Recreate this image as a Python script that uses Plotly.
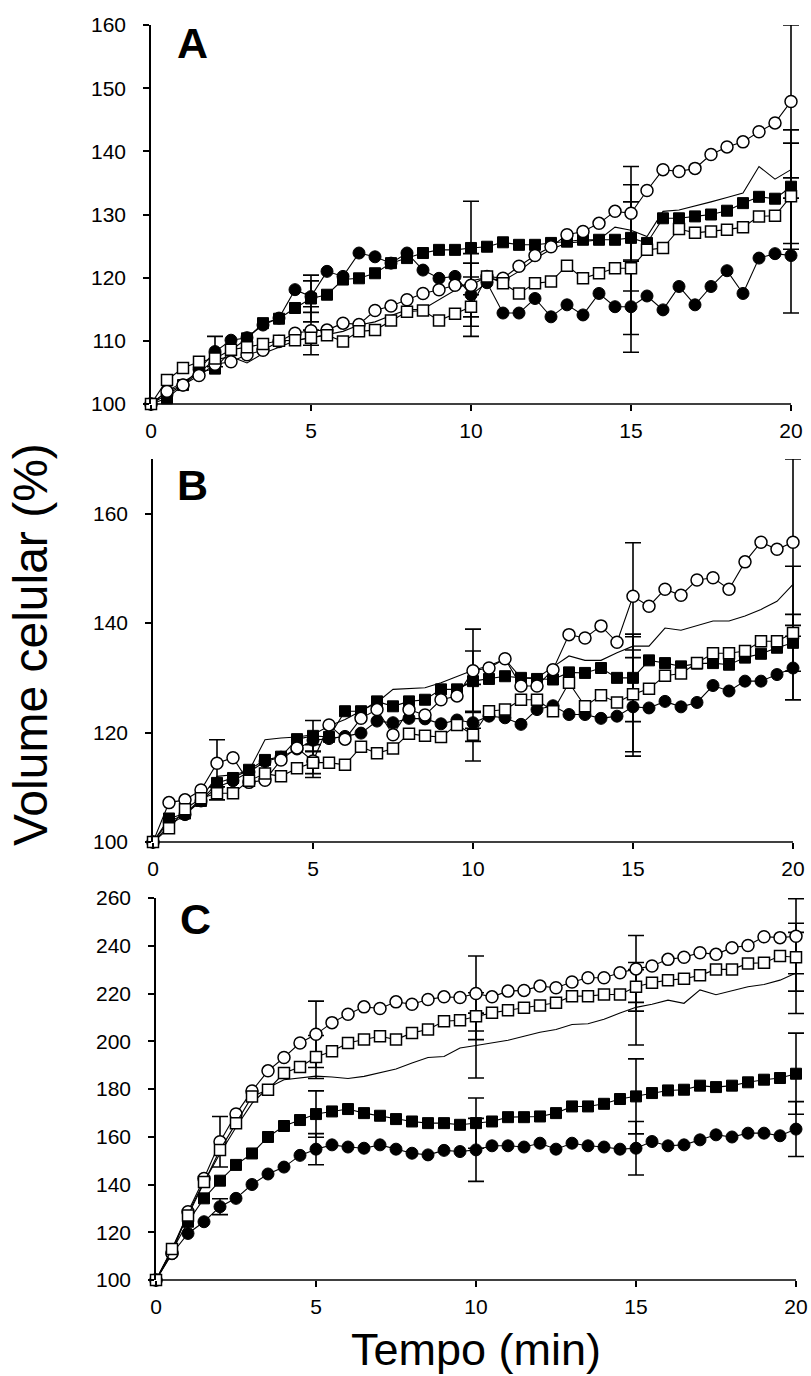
import plotly.graph_objects as go

# ---------------- data ----------------
time_min = [0, 0.5, 1, 1.5, 2, 2.5, 3, 3.5, 4, 4.5, 5, 5.5, 6, 6.5, 7, 7.5, 8, 8.5, 9, 9.5,
            10, 10.5, 11, 11.5, 12, 12.5, 13, 13.5, 14, 14.5, 15, 15.5, 16, 16.5, 17, 17.5,
            18, 18.5, 19, 19.5, 20]
err_times = [2, 5, 10, 15, 20]

# Panel A
A_filled_circle = [100, 101.5, 103, 105.5, 108.3, 110.1, 110.5, 112.5, 113.6, 118.1, 117, 121, 120.2,
                   123.9, 123.3, 122.3, 123.9, 121.2, 119.9, 120.2, 117.3, 119.2, 114.4, 114.4, 116.7,
                   113.8, 115.7, 114.1, 117.5, 115.4, 115.4, 117.1, 114.9, 118.6, 115.7, 118.6, 121.1,
                   117.5, 123.1, 123.8, 123.5]
A_filled_square = [100, 100.9, 103, 105, 105.6, 108.5, 110.4, 112.8, 113.5, 115.2, 116.7, 117.3, 119.7,
                   119.9, 120.7, 122.3, 123.1, 123.9, 124.4, 124.4, 124.7, 124.9, 125.6, 125.2, 125.2,
                   125.5, 125.7, 126, 126, 126, 126.3, 125.5, 129.4, 129.4, 129.7, 130, 130.6, 131.8,
                   132.8, 132.5, 134.4]
A_open_circle = [100, 102, 103, 104.5, 106.3, 106.7, 107.8, 108.5, 109.9, 111.2, 111.6, 111.7, 112.8,
                 112.6, 114.8, 115.5, 116.5, 117.5, 118.1, 118.8, 118.8, 120.2, 119.9, 121.8, 123.5,
                 124.9, 126.8, 127.3, 128.6, 130.5, 130.2, 133.8, 137.1, 136.8, 137.3, 139.5, 140.7,
                 141.5, 143.1, 144.5, 147.9]
A_open_square = [100, 103.8, 105.7, 106.7, 107.2, 108.6, 109, 109.5, 110, 110.1, 110.5, 110.9, 109.9,
                 111.5, 111.7, 113.2, 114.6, 114.8, 113.2, 114.3, 115.4, 120.2, 119.1, 117.5, 119.1,
                 119.4, 121.9, 119.9, 120.7, 121.5, 121.5, 124.4, 124.7, 127.7, 127.1, 127.3, 127.6,
                 128, 129.7, 129.8, 132.9]
A_line = [100, 102, 103.5, 105, 107, 107.5, 106.5, 108, 109, 110, 110.5, 111, 111.5, 112.5, 113, 114,
          114.9, 115, 116.5, 118, 119.5, 120, 119.5, 121, 123, 124.5, 125.5, 125.7, 126, 128, 127.5,
          126.5, 130.5, 130.7, 131.3, 132, 132.7, 133.4, 137.6, 135.6, 137.1]
A_err_fc = [2.4, 2.5, 5.0, 7.2, 9.1]
A_err_fs = [None, 3.7, 7.4, 8.4, 9.0]
A_err_oc = [None, 3.8, 5.0, 7.4, 12.1]
A_err_os = [None, 1.2, 4.7, 10.5, 8.4]

# Panel B
B_filled_circle = [100, 103.8, 105, 107.5, 110, 111.2, 112.8, 114.7, 115.5, 117, 118.6, 118.9, 119.3,
                   119.9, 122.1, 121.8, 122.6, 122.5, 121.6, 122.3, 121.8, 123, 122.7, 121.5, 124.2, 124.9,
                   123.3, 123.3, 122.6, 123, 124.7, 124.5, 125.7, 124.7, 125.5, 128.6, 127.6, 129.4,
                   129.4, 130.6, 131.8]
B_filled_square = [100, 104.3, 105.2, 107.5, 110.8, 111.7, 113.2, 115, 115.6, 118.8, 119.4, 119.2, 123.9,
                   123.9, 125.7, 124.8, 125.7, 126, 127.9, 127.9, 129.4, 129.8, 130.3, 130, 129.8,
                   129.7, 131, 130.9, 131.8, 130, 130, 133.2, 132.7, 132.1, 132.6, 132.7, 132.4, 133.7,
                   134.4, 135.5, 136.4]
B_open_circle = [100, 107.2, 107.7, 109.5, 114.4, 115.4, 110.9, 111.3, 115, 117.2, 114.8, 121.4, 118.8,
                 122.6, 124.2, 119.6, 124.2, 123.2, 126, 126.7, 131.3, 131.8, 133.5, 128.5, 128.5, 131.5,
                 137.9, 137.3, 139.5, 136.5, 144.9, 143.1, 146.2, 145.1, 147.9, 148.3, 146.2, 151.2,
                 154.8, 153.5, 154.8]
B_open_square = [100, 102.5, 106, 108, 108.9, 108.9, 111.2, 112.5, 112, 113.5, 114.5, 114.5, 114.1,
                 117.4, 116.2, 117.1, 119.8, 119.4, 119.2, 121.4, 119.6, 123.9, 124.2, 126, 126, 123.9,
                 129.1, 124.8, 126.8, 125.5, 127, 128, 130.4, 130.8, 132.7, 134.5, 134.5, 134.9, 136.7,
                 136.7, 138.2]
B_line = [100, 103, 105, 108, 112, 112.3, 113, 118.7, 119, 119.2, 119.6, 121.2, 122.4, 123.9, 125.5,
          127.9, 128, 128.2, 129.1, 130.3, 131.4, 132.2, 133.4, 130, 130, 132, 134, 133.2, 133.2,
          134.6, 135.8, 135.8, 139.1, 138.7, 139.5, 140.4, 140.4, 141.3, 142.5, 144, 147.1]
B_err_fc = [None, None, 7.0, 9.0, 5.8]
B_err_fs = [None, 2.8, 5.5, 8.0, 5.2]
B_err_oc = [4.3, 3.0, 7.6, 9.8, 15.2]
B_err_os = [1.2, 2.0, 1.2, 10.5, 12.2]

# Panel C
C_filled_circle = [100, 111, 119.5, 124.4, 130.7, 134.2, 140, 144.4, 147.3, 152.2, 154.8, 156.6, 155.7,
                   155.2, 156.6, 154.8, 153.1, 152.4, 154.3, 153.8, 154.5, 156.2, 156.2, 155.7, 157.3,
                   154.8, 157.3, 156.2, 155.7, 154.8, 155.2, 158, 156.2, 156.6, 158.7, 160.8, 159.9,
                   161.5, 161.5, 160.4, 163.2]
C_filled_square = [100, 112, 124.4, 134.2, 141.6, 148.2, 153, 159.9, 164.5, 167, 169.5, 170.6, 171.6,
                   169.9, 168.8, 167.4, 166.4, 165.7, 165.7, 165, 165.7, 166.4, 168.2, 168.2, 168.5,
                   169.9, 172.7, 172.7, 173.8, 175.8, 176.9, 178.3, 179.4, 179.7, 181.4, 180.8, 181.4,
                   182.8, 183.9, 184.6, 186.4]
C_open_circle = [100, 111.2, 128.6, 142.5, 157.9, 169.5, 179.2, 187.6, 193.2, 199.3, 202.9, 207.8,
                 211.3, 214.4, 213.7, 216.5, 215.5, 217.5, 218.6, 218.3, 220, 218.6, 221, 221.3, 223.1,
                 222.4, 224.8, 226.6, 226.6, 228.7, 230.3, 231.5, 234.3, 235.2, 237.1, 236.4, 239.2,
                 240.1, 243.8, 243.4, 244]
C_open_square = [100, 113, 127, 141, 154.5, 165.7, 176.9, 179.7, 186.7, 189.2, 193.4, 195.8, 199.3,
                 200.7, 202.1, 200.7, 203.5, 204.9, 208.4, 208.8, 210.5, 211.9, 213, 214, 215, 216.1,
                 218.9, 218.9, 219.6, 219.6, 222.8, 224.5, 225.6, 226.2, 227.6, 230.1, 230.1, 232.6,
                 232.9, 235.7, 235.2]
C_line = [100, 113, 128, 141, 153, 164, 174, 180.5, 183.9, 184.7, 185.4, 185, 184.4, 185.3, 186.7,
          188.4, 190.9, 193.2, 193.6, 197.2, 198.2, 199.4, 200.4, 202.1, 203.8, 204.9, 207, 207.3,
          209.2, 211.8, 214.2, 215.5, 217.2, 215.9, 221.5, 219.5, 221.2, 222.8, 223.8, 225.6, 228.6]
C_err_fc = [3.3, 6.5, 13.2, 11.2, 11.5]
C_err_fs = [None, 9.7, 10.5, 15.7, 17.0]
C_err_oc = [10.6, 13.9, 15.7, 14.0, 15.7]
C_err_os = [None, 9.0, 9.8, 10.2, 14.2]
C_err_ln = [None, None, 13.6, 15.8, 17.0]

panel_labels = ["A", "B", "C"]
x_ticks = [0, 5, 10, 15, 20]
A_y_ticks = [100, 110, 120, 130, 140, 150, 160]
B_y_ticks = [100, 120, 140, 160]
C_y_ticks = [100, 120, 140, 160, 180, 200, 220, 240, 260]
y_title = "Volume celular (%)"
x_title = "Tempo (min)"

# ---------------- figure ----------------
W, H = 811, 1376
FONT = "Liberation Sans, Arial, sans-serif"
X_MAX = 20
X_PAD = 0.4          # extra room on the right so end caps are not clipped
PX_PER_MIN = 32

panels = [
    dict(suffix="", fc=A_filled_circle, fs=A_filled_square, oc=A_open_circle, os=A_open_square,
         ln=A_line, efc=A_err_fc, efs=A_err_fs, eoc=A_err_oc, eos=A_err_os, eln=None,
         x0=151, ypx=(25, 404), yrange=(100, 160), yticks=A_y_ticks, lab=(192, 43)),
    dict(suffix="2", fc=B_filled_circle, fs=B_filled_square, oc=B_open_circle, os=B_open_square,
         ln=B_line, efc=B_err_fc, efs=B_err_fs, eoc=B_err_oc, eos=B_err_os, eln=None,
         x0=153, ypx=(459, 842), yrange=(100, 170), yticks=B_y_ticks, lab=(192, 485)),
    dict(suffix="3", fc=C_filled_circle, fs=C_filled_square, oc=C_open_circle, os=C_open_square,
         ln=C_line, efc=C_err_fc, efs=C_err_fs, eoc=C_err_oc, eos=C_err_os, eln=C_err_ln,
         x0=156, ypx=(898, 1280), yrange=(100, 260), yticks=C_y_ticks, lab=(195, 919)),
]

fig = go.Figure()
layout = dict(width=W, height=H, margin=dict(l=0, r=0, t=0, b=0, pad=0, autoexpand=False),
              paper_bgcolor="white", plot_bgcolor="rgba(0,0,0,0)", showlegend=False,
              font=dict(family=FONT, color="black"))
annotations = []
shapes = []


def err_trace(series, errs, xa, ya):
    xs, ys, es = [], [], []
    for t, e in zip(err_times, errs):
        if e is None:
            continue
        xs.append(t)
        ys.append(series[time_min.index(t)])
        es.append(e)
    return go.Scatter(x=xs, y=ys, mode="markers", xaxis=xa, yaxis=ya,
                      marker=dict(size=1, color="rgba(0,0,0,0)"),
                      error_y=dict(type="data", array=es, visible=True, color="black",
                                   thickness=1.6, width=8),
                      cliponaxis=False, hoverinfo="skip")


for i, p in enumerate(panels):
    xa = "x" + p["suffix"]
    ya = "y" + p["suffix"]
    for key, ekey in (("fc", "efc"), ("fs", "efs"), ("oc", "eoc"), ("os", "eos"), ("ln", "eln")):
        if p[ekey] is not None:
            fig.add_trace(err_trace(p[key], p[ekey], xa, ya))
    fig.add_trace(go.Scatter(x=time_min, y=p["ln"], mode="lines", xaxis=xa, yaxis=ya,
                             line=dict(color="black", width=1.1), cliponaxis=False))
    fig.add_trace(go.Scatter(x=time_min, y=p["fc"], mode="lines+markers", xaxis=xa, yaxis=ya,
                             line=dict(color="black", width=1.1),
                             marker=dict(symbol="circle", size=12, color="black",
                                         line=dict(color="black", width=1)),
                             cliponaxis=False))
    fig.add_trace(go.Scatter(x=time_min, y=p["fs"], mode="lines+markers", xaxis=xa, yaxis=ya,
                             line=dict(color="black", width=1.1),
                             marker=dict(symbol="square", size=11, color="black",
                                         line=dict(color="black", width=1)),
                             cliponaxis=False))
    fig.add_trace(go.Scatter(x=time_min, y=p["oc"], mode="lines+markers", xaxis=xa, yaxis=ya,
                             line=dict(color="black", width=1.1),
                             marker=dict(symbol="circle", size=12, color="white",
                                         line=dict(color="black", width=1.5)),
                             cliponaxis=False))
    fig.add_trace(go.Scatter(x=time_min, y=p["os"], mode="lines+markers", xaxis=xa, yaxis=ya,
                             line=dict(color="black", width=1.1),
                             marker=dict(symbol="square", size=11, color="white",
                                         line=dict(color="black", width=1.5)),
                             cliponaxis=False))

    x0 = p["x0"]
    x1 = x0 + (X_MAX + X_PAD) * PX_PER_MIN
    ytop, ybot = p["ypx"]
    xkey = "xaxis" + p["suffix"]
    ykey = "yaxis" + p["suffix"]
    layout[xkey] = dict(domain=[x0 / W, min(x1 / W, 1.0)], range=[0, X_MAX + X_PAD], anchor=ya,
                        tickvals=x_ticks, ticks="outside", ticklen=6, tickwidth=1.5,
                        tickcolor="black", showline=False, showgrid=False, zeroline=False,
                        automargin=False,
                        tickfont=dict(size=21, family=FONT, color="black"),
                        ticklabelstandoff=2)
    layout[ykey] = dict(domain=[1 - ybot / H, 1 - ytop / H], range=list(p["yrange"]), anchor=xa,
                        tickvals=p["yticks"], ticks="outside", ticklen=6, tickwidth=1.5,
                        tickcolor="black", showline=True, linewidth=1.6, linecolor="black",
                        showgrid=False, zeroline=False, automargin=False,
                        tickfont=dict(size=21, family=FONT, color="black"),
                        ticklabelstandoff=13)
    # bottom axis line, ending at 20 min like the original
    shapes.append(dict(type="line", xref=xa, yref=ya + " domain", x0=0, x1=X_MAX, y0=0, y1=0,
                       line=dict(color="black", width=1.6), layer="below"))
    lx, ly = p["lab"]
    annotations.append(dict(x=lx / W, y=1 - ly / H, xref="paper", yref="paper",
                            text="<b>%s</b>" % panel_labels[i], showarrow=False,
                            font=dict(size=43, family=FONT, color="black"),
                            xanchor="center", yanchor="middle"))

annotations.append(dict(x=30 / W, y=1 - 645 / H, xref="paper", yref="paper", text=y_title,
                        textangle=-90, showarrow=False, xanchor="center", yanchor="middle",
                        font=dict(size=48, family=FONT, color="black")))
annotations.append(dict(x=476 / W, y=0, xref="paper", yref="paper", text=x_title,
                        showarrow=False, xanchor="center", yanchor="bottom", borderpad=0,
                        font=dict(size=45, family=FONT, color="black")))
layout["annotations"] = annotations
layout["shapes"] = shapes
fig.update_layout(**layout)
fig.write_html("out.html", config={"displayModeBar": False},
               post_script="document.body.style.margin='0';document.body.style.overflow='hidden';")
